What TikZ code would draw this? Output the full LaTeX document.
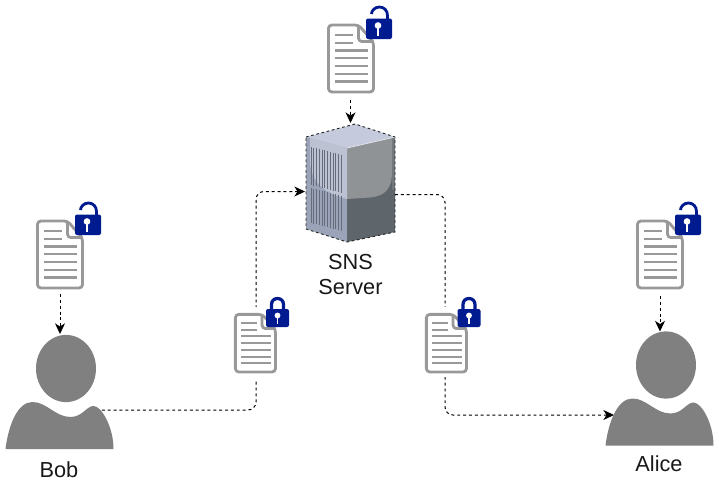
\documentclass[tikz,border=0pt]{standalone}
\usepackage{fontspec}
\setmainfont{Liberation Sans}
\usetikzlibrary{arrows.meta}
\pgfdeclarelayer{background}
\pgfsetlayers{background,main}
\definecolor{docgray}{HTML}{999999}
\definecolor{lockblue}{HTML}{001A8F}
\definecolor{persongray}{HTML}{808080}
\definecolor{srvtop}{HTML}{C5CBDC}
\definecolor{srvleft}{HTML}{9AA3B8}
\definecolor{srvleftlt}{HTML}{BCC2D1}
\definecolor{srvdark}{HTML}{5E656B}
\definecolor{srvmid}{HTML}{72777C}
\definecolor{srvlight}{HTML}{8F9396}
\definecolor{srvvent}{HTML}{666C7A}
\definecolor{srvedge}{HTML}{E4E7EE}
\tikzset{
  iconbox/.style={inner sep=0pt,outer sep=0pt,minimum width=#1},
  boxh/.style={minimum height=#1},
  lbl/.style={font=\fontsize{16.3}{18.75}\selectfont,align=center,text=black!90,inner sep=0pt},
  conn/.style={draw=black,line width=0.75pt,dash pattern=on 2.2pt off 2.2pt,rounded corners=6pt,
    -{Stealth[length=8pt,width=7.5pt,inset=2.4pt,sep=0pt]}},
  outline/.style={draw=black!85,line width=0.7pt,dash pattern=on 2pt off 2pt},
}
\newcommand{\DocIcon}[4]{%
  \begin{scope}[shift={#1},xscale=#2,yscale=#3]
    \draw[docgray,fill=white,line width=2.1pt,rounded corners=2.5pt,line join=round]
      (1,1) -- (31,1) -- (46,18) -- (46,68) -- (1,68) -- cycle;
    \draw[docgray,line width=2.1pt,rounded corners=2.5pt,line join=round] (31,1) -- (31,17.5) -- (46,17.5);
    \foreach \yy/\xx in {11/25,19/25,26.7/40.5,34/40.5,42/40.5,50/40.5,57.7/40.5}
      \draw[docgray,line width=#4] (7.5,\yy) -- (\xx,\yy);
  \end{scope}}
\newcommand{\LockOpen}[1]{%
  \begin{scope}[shift={#1}]
    \draw[lockblue,line width=2.1pt,fill=none]
      (21.5,1) -- (21.5,-3) .. controls (21.5,-8) and (18,-11.5) .. (13.5,-11.5)
      .. controls (9,-11.5) and (5.5,-8) .. (5.5,-4.5);
    \fill[lockblue,rounded corners=1.5pt] (0,0) rectangle (26,20.5);
    \fill[white] (12,7) circle[radius=2.5pt];
    \fill[white] (11,7) rectangle (13,17);
  \end{scope}}
\newcommand{\LockClosed}[1]{%
  \begin{scope}[shift={#1}]
    \draw[lockblue,line width=2.4pt,fill=none]
      (5.5,1) -- (5.5,-4.5) .. controls (5.5,-8) and (8,-10.5) .. (11.5,-10.5)
      .. controls (15,-10.5) and (17.5,-8) .. (17.5,-4.5) -- (17.5,1);
    \fill[lockblue,rounded corners=1.5pt] (0,0) rectangle (23,18);
    \fill[white] (11.5,6.5) circle[radius=2.2pt];
    \fill[white] (10.6,6.5) rectangle (12.4,15);
  \end{scope}}
\newcommand{\PersonIcon}[1]{%
  \begin{scope}[shift={#1}]
    \fill[persongray] (60.5,33.5) circle[x radius=22.5pt,y radius=25.2pt];
    \fill[persongray] (0,114) .. controls (3,90) and (12,67) .. (27,67)
      .. controls (41,67) and (50,82) .. (65,82)
      .. controls (77,82) and (81,71) .. (88,71)
      .. controls (96,71) and (108,92) .. (108,114) -- cycle;
  \end{scope}}
\begin{document}
\begin{tikzpicture}[x=0.75pt,y=-0.75pt]
\useasboundingbox (0,0) rectangle (719,486);
\begin{pgfonlayer}{background}
  \fill[white] (0,0) rectangle (719,486);
\end{pgfonlayer}
% nodes
\node[iconbox=47.5*0.75pt,boxh=69*0.75pt] (docTop) at (351.25,58.5) {};
\node[iconbox=47.5*0.75pt,boxh=68*0.75pt] (docBob) at (60.25,254) {};
\node[iconbox=47.5*0.75pt,boxh=68*0.75pt] (docAlice) at (660.25,254) {};
\node[iconbox=44*0.75pt,boxh=72*0.75pt,fill=white] (docMidA) at (256,343) {};
\node[iconbox=44*0.75pt,boxh=70*0.75pt,fill=white] (docMidB) at (445,342) {};
\node[iconbox=89*0.75pt,boxh=118*0.75pt] (server) at (350.5,183) {};
\node[iconbox=108*0.75pt,boxh=114*0.75pt] (bob) at (59.5,392) {};
\node[iconbox=108*0.75pt,boxh=114*0.75pt] (alice) at (659.5,388) {};
\coordinate (bobOut) at (96,410);
\coordinate (srvIn) at (305,191.5);
\coordinate (srvOut) at (395,194.5);
\coordinate (aliceIn) at (614,415);
\coordinate (aliceTop) at (660,331.5);
\coordinate (bobTop) at (60,334);
\coordinate (srvTop) at (350.5,123);
\coordinate (topOut) at (350.5,100);
\coordinate (bobDocOut) at (60,294);
\coordinate (aliceDocOut) at (660,296);
% connectors
\begin{pgfonlayer}{background}
  \draw[conn] (bobOut) -| (docMidA.south) -- (docMidA.north) |- (srvIn);
  \draw[conn] (srvOut) -| (docMidB.north) -- (docMidB.south) |- (aliceIn);
\end{pgfonlayer}
\draw[conn] (topOut) -- (srvTop);
\draw[conn] (bobDocOut) -- (bobTop);
\draw[conn] (aliceDocOut) -- (aliceTop);
% documents
\DocIcon{(docTop.north west)}{1}{1}{1.9pt}
\LockOpen{(366,18.5)}
\DocIcon{(docBob.north west)}{1}{1}{1.9pt}
\LockOpen{(75,214.5)}
\DocIcon{(docAlice.north west)}{1}{1}{1.9pt}
\LockOpen{(675,214.5)}
\DocIcon{(234.5,313.5)}{0.89}{0.86}{1.5pt}
\LockClosed{(266,309)}
\DocIcon{(425.5,313.5)}{0.89}{0.86}{1.5pt}
\LockClosed{(457.5,309)}
% persons
\PersonIcon{(5.5,335)}
\PersonIcon{(605.5,331.5)}
% server
\fill[srvtop] (306,137) -- (355,124) -- (395,137) -- (347,148) -- cycle;
\fill[srvleft] (306,137) -- (347,148) -- (347,242) -- (306,229) -- cycle;
\fill[srvdark] (347,148) -- (395,137) -- (395,232) -- (347,242) -- cycle;
\begin{scope}
  \clip (347,148) -- (395,137) -- (395,232) -- (347,242) -- cycle;
  \fill[srvmid] (392,130) rectangle (395,190);
  \fill[srvlight] (347,140) -- (392,130) -- (392,172) .. controls (392,190) and (384,196) .. (370,197.5)
    -- (347,199) -- cycle;
\end{scope}
\begin{scope}
  \clip (306,137) -- (347,148) -- (347,242) -- (306,229) -- cycle;
  \fill[srvleftlt] (310,130) -- (347,130) -- (347,199) .. controls (330,195) and (310,185) .. (310,160) -- cycle;
  \foreach \i in {0,...,11} {
    \draw[srvvent,line width=0.55pt] (311+2.75*\i,147+0.25*2.75*\i) -- (311+2.75*\i,185+0.25*2.75*\i);
    \draw[srvvent,line width=0.55pt] (311+2.75*\i,188+0.25*2.75*\i) -- (311+2.75*\i,223+0.25*2.75*\i);
  }
\end{scope}
\draw[srvedge,line width=0.6pt] (347,148) -- (395,137);
\draw[outline] (306,137) -- (355,124) -- (395,137) -- (395,232) -- (347,242) -- (306,229) -- cycle;
% labels
\node[lbl] (srvLabel) at (350.5,274.5) {SNS\\Server};
\node[lbl] (bobLabel) at (59,470) {Bob};
\node[lbl] (aliceLabel) at (659,464) {Alice};
\end{tikzpicture}
\end{document}
